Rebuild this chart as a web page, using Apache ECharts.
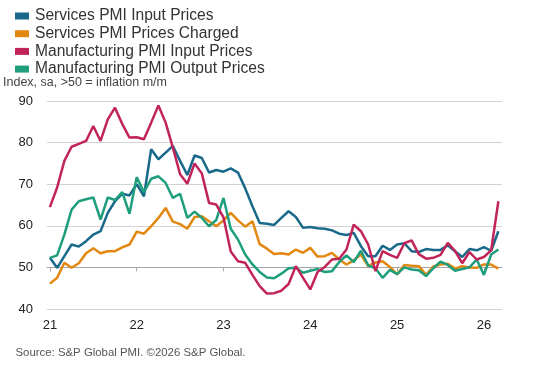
<!DOCTYPE html>
<html>
<head>
<meta charset="utf-8">
<script src="https://cdn.jsdelivr.net/npm/echarts@6/dist/echarts.min.js"></script>
<style>
html,body{margin:0;padding:0;background:#fff;}
#c{width:543px;height:369px;}
</style>
</head>
<body>
<div id="c"></div>
<script>
// Monthly data, Jan 2021 .. Mar 2026 (index 0 = Jan 2021)
const seriesNames = [
  'Services PMI Input Prices',
  'Services PMI Prices Charged',
  'Manufacturing PMI Input Prices',
  'Manufacturing PMI Output Prices'
];
const servicesInput = [52.3,49.9,52.7,55.5,55.0,56.3,57.9,58.7,63.1,65.9,67.7,67.3,70.0,67.1,78.4,76.0,77.6,79.2,75.6,72.2,76.9,76.3,72.8,73.4,73.0,73.8,72.8,69.0,64.7,60.7,60.5,60.2,61.9,63.5,62.1,59.5,59.7,59.4,59.3,58.9,58.1,57.8,58.3,55.1,52.7,52.7,55.2,54.2,55.5,55.8,53.9,53.7,54.4,54.2,54.2,55.3,53.9,52.5,54.4,54.1,54.9,54.0,58.7];
const servicesCharged = [46.1,47.5,51.1,49.9,51.0,53.4,54.6,53.4,53.9,53.9,54.8,55.5,58.6,58.1,59.9,61.9,64.3,61.0,60.4,59.3,62.1,62.3,61.1,59.9,61.3,63.1,61.3,59.8,61.1,55.6,54.5,53.2,53.4,53.1,54.3,53.5,54.7,52.6,52.7,53.5,51.9,50.7,51.7,53.1,50.3,51.2,51.5,50.1,48.3,50.6,50.4,50.3,48.2,50.2,50.7,50.9,49.7,50.3,50.0,49.9,50.7,50.7,49.7];
const mfgInput = [64.5,69.2,75.6,79.0,79.7,80.4,84.0,80.4,85.6,88.4,84.5,81.2,81.3,80.8,84.8,88.9,84.8,78.8,72.4,70.1,75.0,72.6,65.5,65.1,62.0,53.8,51.5,51.1,48.2,45.5,43.7,43.8,44.4,46.0,50.3,47.5,44.7,48.9,50.1,51.9,52.1,54.3,60.3,58.7,55.5,49.1,53.9,53.0,52.3,55.8,56.5,53.2,52.1,52.3,53.0,55.9,54.0,51.0,53.7,51.9,52.5,54.1,65.9];
const mfgOutput = [52.3,52.9,57.9,63.9,65.9,66.4,66.8,61.5,66.8,66.2,68.1,62.9,71.7,68.1,71.3,71.9,70.3,66.7,67.7,61.9,63.4,61.9,59.9,61.4,66.7,59.3,56.7,53.1,50.7,48.9,47.6,47.4,48.5,49.8,49.9,48.7,49.2,49.6,48.9,49.1,51.3,52.9,51.3,54.0,50.5,49.8,47.5,49.4,48.4,50.0,49.5,49.3,47.9,49.8,51.4,50.6,49.2,49.6,50.0,51.9,48.2,53.1,54.3];
const xTickMonths = [0,12,24,36,48,60];
const xTickLabels = ['21','22','23','24','25','26'];
const yTicks = [40,50,60,70,80,90];

const colors = ['#19698A','#E2870F','#C02459','#1E9E7C'];
const FONT = 'Liberation Sans, Arial, sans-serif';
const allSeries = [servicesInput, servicesCharged, mfgInput, mfgOutput];

const chart = echarts.init(document.getElementById('c'), null, {renderer:'canvas'});
chart.setOption({
  animation:false,
  color: colors,
  textStyle:{fontFamily:FONT},
  title:[
    {text:'Index, sa, >50 = inflation m/m', left:-2, top:71,
     textStyle:{fontSize:12.5, fontWeight:'normal', color:'#444', fontFamily:FONT}},
    {text:'Source: S&P Global PMI. ©2026 S&P Global.', left:10.5, top:342,
     textStyle:{fontSize:11.4, fontWeight:'normal', color:'#555', fontFamily:FONT}}
  ],
  legend:{
    orient:'vertical', left:15, top:8, padding:0,
    itemWidth:14, itemHeight:7, itemGap:1.7,
    textStyle:{fontSize:15.6, color:'#333', fontFamily:FONT, padding:[0,0,0,1]},
    data: seriesNames.map(n=>({name:n, icon:'rect'}))
  },
  grid:{left:47, right:41, top:101, bottom:60},
  xAxis:[
    {type:'value', min:-0.4, max:62.5,
     axisLine:{show:false}, axisTick:{show:false}, splitLine:{show:false},
     axisLabel:{customValues:xTickMonths, margin:10, fontSize:13, color:'#222', fontFamily:FONT,
       formatter:(v)=>{const k=xTickMonths.indexOf(Math.round(v)); return k>=0?xTickLabels[k]:'';}}},
    {type:'value', min:-0.4, max:62.5, position:'bottom', offset:-41.6,
     axisLine:{show:true, onZero:false, lineStyle:{color:'#a6a6a6', width:1}},
     axisTick:{show:true, customValues:xTickMonths, length:4, lineStyle:{color:'#a6a6a6'}},
     axisLabel:{show:false}, splitLine:{show:false}}
  ],
  yAxis:{type:'value', min:yTicks[0], max:yTicks[yTicks.length-1], interval:10,
    axisLine:{show:false}, axisTick:{show:false},
    splitLine:{lineStyle:{color:'#d2d2d2', width:1}},
    axisLabel:{fontSize:13, color:'#222', margin:14, fontFamily:FONT}},
  series: allSeries.map((arr,k)=>({
    name: seriesNames[k], type:'line', xAxisIndex:0,
    data: arr.map((v,i)=>[i,v]),
    showSymbol:false, symbol:'none',
    lineStyle:{width:2.5, color:colors[k]},
    itemStyle:{color:colors[k]},
    z: [3,2,5,4][k]
  }))
});
</script>
</body>
</html>
